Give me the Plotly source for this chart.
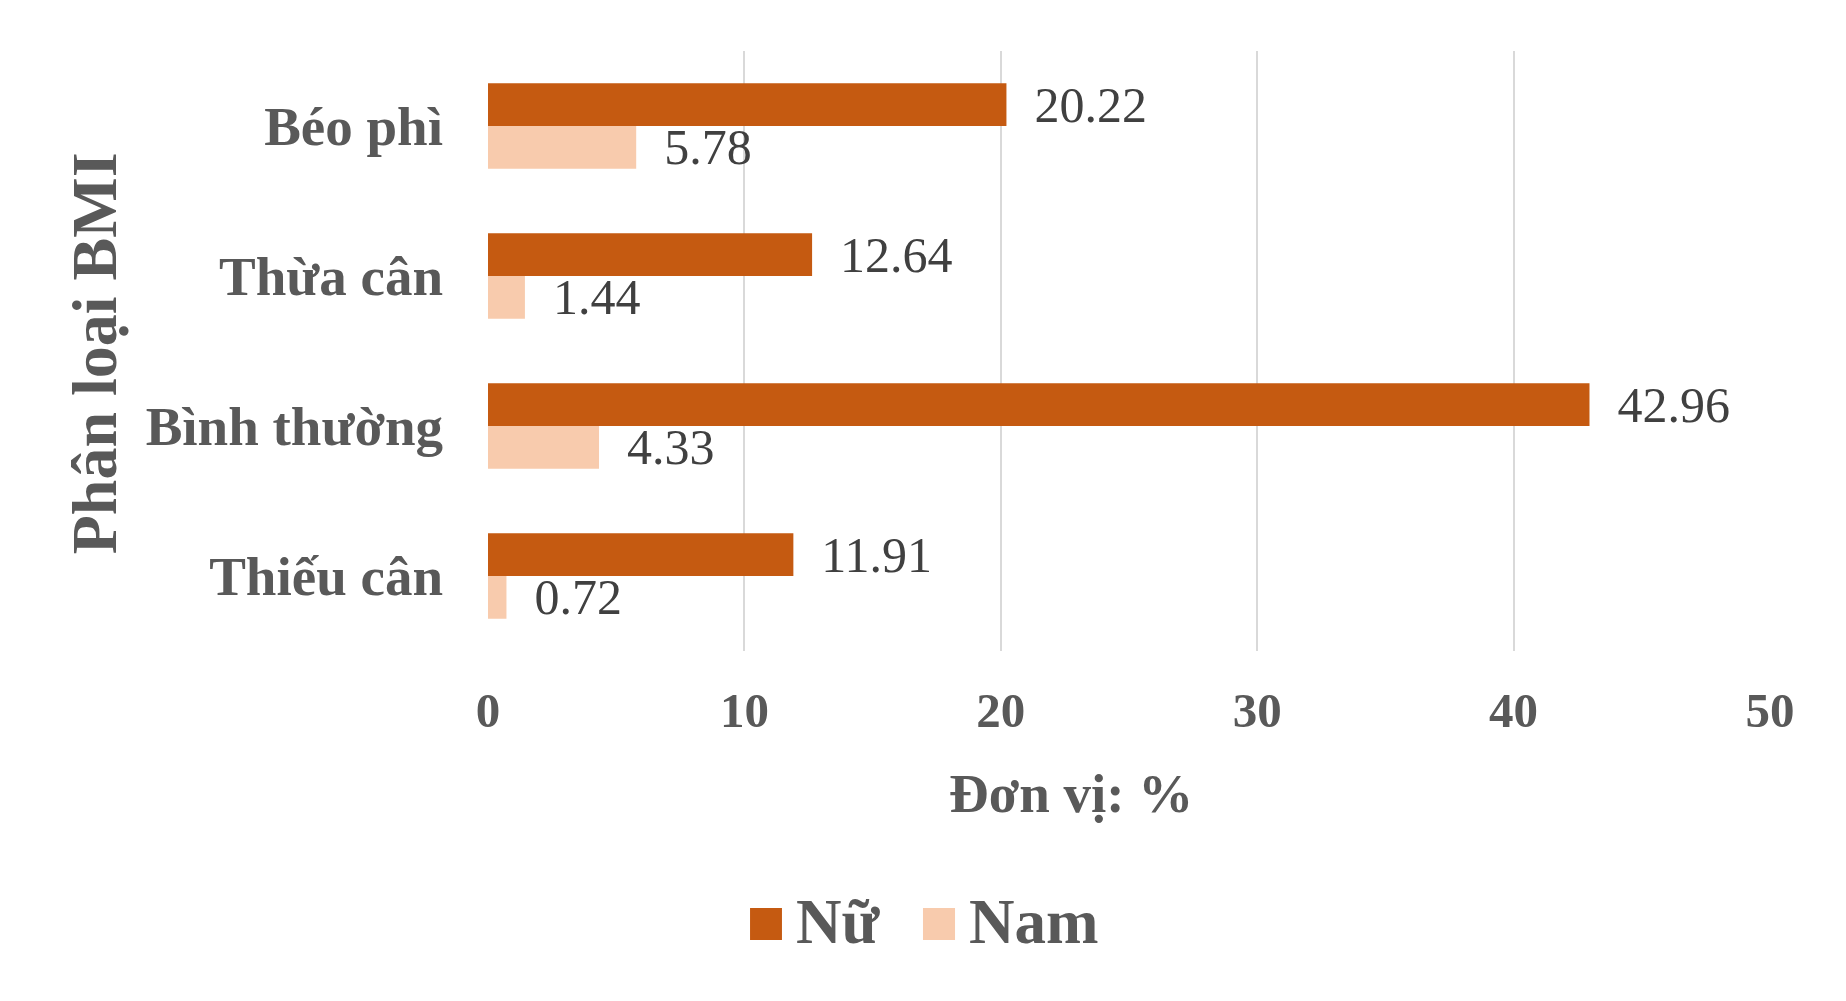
import plotly.graph_objects as go

# --- Data (top to bottom as shown) ---
categories = ['Béo phì', 'Thừa cân', 'Bình thường', 'Thiếu cân']
nu_values = [20.22, 12.64, 42.96, 11.91]
nam_values = [5.78, 1.44, 4.33, 0.72]
x_ticks = [0, 10, 20, 30, 40, 50]
series_names = ['Nữ', 'Nam']

color_nu = '#C55A11'
color_nam = '#F8CBAD'
font_family = 'Liberation Serif, Times New Roman, serif'
pad = '\u00a0\u00a0'  # small gap between bar end and its label

fig = go.Figure()

for name, vals, col in [(series_names[0], nu_values, color_nu),
                        (series_names[1], nam_values, color_nam)]:
    fig.add_trace(go.Bar(
        y=categories,
        x=vals,
        name=name,
        orientation='h',
        marker=dict(color=col, line=dict(width=0)),
        text=[pad + f'{v:.2f}' for v in vals],
        textposition='outside',
        textfont=dict(family=font_family, size=50, color='#404040'),
        constraintext='none',
        cliponaxis=False,
        showlegend=False,
    ))

# page body adds an 8px offset, so the figure is a bit smaller than the window
fig.update_layout(
    width=1830,
    height=985,
    margin=dict(l=480, r=68, t=43, b=342),
    paper_bgcolor='white',
    plot_bgcolor='white',
    barmode='group',
    bargap=0.43,
    bargroupgap=0,
    font=dict(family=font_family, color='#595959'),
    showlegend=False,
)

fig.update_xaxes(
    range=[0, 50],
    tickvals=x_ticks,
    showgrid=True,
    gridcolor='#D9D9D9',
    gridwidth=2,
    zeroline=False,
    showline=False,
    ticks='',
    ticklabelstandoff=26,
    tickfont=dict(family=font_family, size=49, color='#595959', weight='bold'),
    automargin=False,
)

fig.update_yaxes(
    categoryorder='array',
    categoryarray=categories,
    autorange='reversed',
    showgrid=False,
    zeroline=False,
    showline=False,
    ticks='',
    ticklabelstandoff=44,
    tickfont=dict(family=font_family, size=55, color='#595959', weight='bold'),
    automargin=False,
)

# Axis titles
fig.add_annotation(
    text='Đơn vị: %',
    xref='paper', yref='paper',
    x=0.455, y=-0.237,
    xanchor='center', yanchor='middle',
    showarrow=False,
    font=dict(family=font_family, size=55, color='#595959', weight='bold'),
)
fig.add_annotation(
    text='Phân loại BMI',
    xref='paper', yref='paper',
    x=-0.307, y=0.497,
    xanchor='center', yanchor='middle',
    textangle=-90,
    showarrow=False,
    font=dict(family=font_family, size=64, color='#595959', weight='bold'),
)

# Legend with large square keys
legend_boxes = [(0.2044, 0.2293, color_nu), (0.3393, 0.3643, color_nam)]
legend_text_x = [0.2385, 0.3740]
for (x0, x1, col), tx, name in zip(legend_boxes, legend_text_x, series_names):
    fig.add_shape(
        type='rect', xref='paper', yref='paper',
        x0=x0, x1=x1, y0=-0.4817, y1=-0.4283,
        fillcolor=col, line=dict(width=0),
    )
    fig.add_annotation(
        text=name,
        xref='paper', yref='paper',
        x=tx, y=-0.4517,
        xanchor='left', yanchor='middle',
        showarrow=False,
        font=dict(family=font_family, size=63, color='#595959', weight='bold'),
    )

fig.write_html('out.html')
